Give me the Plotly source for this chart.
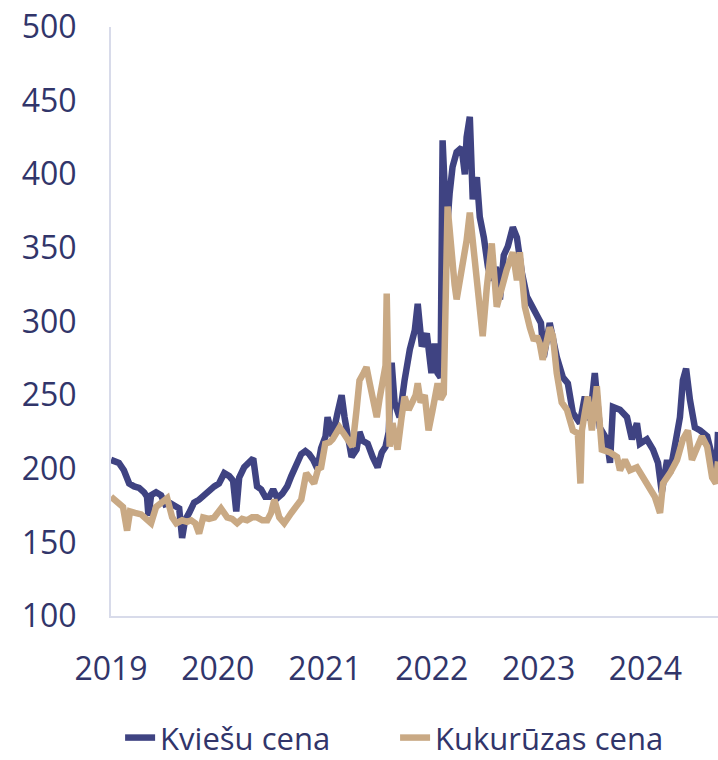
import plotly.graph_objects as go

wheat_dates = [
    "2019-01-01", "2019-01-15", "2019-01-28", "2019-02-14", "2019-03-04", "2019-03-21", "2019-04-07",
    "2019-04-24", "2019-05-04", "2019-05-09", "2019-05-18", "2019-06-04", "2019-06-21", "2019-07-05",
    "2019-07-19", "2019-08-05", "2019-08-22", "2019-09-01", "2019-09-11", "2019-09-25", "2019-10-12",
    "2019-10-29", "2019-11-15", "2019-12-02", "2019-12-20",
    "2020-01-05", "2020-01-23", "2020-02-09", "2020-02-22", "2020-03-04", "2020-03-14", "2020-03-31",
    "2020-04-17", "2020-05-01", "2020-05-14", "2020-05-28", "2020-06-11", "2020-06-25", "2020-07-08",
    "2020-07-22", "2020-08-08", "2020-08-25", "2020-09-08", "2020-09-25", "2020-10-12", "2020-10-26",
    "2020-11-08", "2020-11-22", "2020-12-06", "2020-12-19",
    "2021-01-03", "2021-01-10", "2021-01-27", "2021-02-13", "2021-02-27", "2021-03-09", "2021-03-19",
    "2021-04-02", "2021-04-19", "2021-04-29", "2021-05-10", "2021-05-27", "2021-06-13", "2021-06-30",
    "2021-07-14", "2021-07-27", "2021-08-07", "2021-08-17", "2021-08-27", "2021-09-13", "2021-09-30",
    "2021-10-18", "2021-11-04", "2021-11-14", "2021-11-28", "2021-12-15", "2021-12-31",
    "2022-01-11", "2022-01-21", "2022-01-31", "2022-02-07", "2022-02-14", "2022-02-21", "2022-03-03",
    "2022-03-13", "2022-03-27", "2022-04-13", "2022-04-24", "2022-04-30", "2022-05-11", "2022-05-21",
    "2022-06-04", "2022-06-14", "2022-06-28", "2022-07-12", "2022-07-25", "2022-08-08", "2022-08-22",
    "2022-09-04", "2022-09-18", "2022-10-05", "2022-10-19", "2022-11-05", "2022-11-22", "2022-12-09",
    "2022-12-23",
    "2023-01-09", "2023-01-19", "2023-02-08", "2023-03-04", "2023-03-25", "2023-04-11", "2023-04-28",
    "2023-05-22", "2023-06-08", "2023-06-25", "2023-07-12", "2023-07-29", "2023-08-22", "2023-09-02",
    "2023-09-12", "2023-10-06", "2023-10-30", "2023-11-16", "2023-12-03", "2023-12-13",
    "2024-01-06", "2024-01-27", "2024-02-13", "2024-02-26", "2024-03-15", "2024-03-25", "2024-04-11",
    "2024-04-28", "2024-05-08", "2024-05-19", "2024-06-01", "2024-06-18", "2024-07-06", "2024-07-30",
    "2024-08-19", "2024-08-29", "2024-09-05",
]
wheat_values = [
    206, 205, 204, 199, 190, 188, 187,
    184, 181, 168, 182, 184, 182, 176,
    177, 175, 173, 153, 165, 170, 177,
    179, 182, 186, 188,
    190, 197, 195, 192, 171, 194, 201,
    205, 207, 188, 186, 181, 181, 186,
    180, 183, 188, 195, 203, 210, 212,
    210, 206, 200, 214,
    222, 235, 222, 238, 250, 235, 222,
    208, 213, 225, 219, 217, 208, 201,
    211, 215, 225, 272, 245, 235, 260,
    281, 294, 312, 283, 292, 265,
    285, 265, 262, 423, 395, 360, 387,
    405, 415, 418, 400, 425, 439, 383,
    398, 371, 357, 337, 328, 337, 315,
    345, 351, 364, 357, 333, 317, 310,
    306,
    299, 276, 299, 276, 262, 258, 238,
    231, 249, 233, 265, 228, 220, 204,
    242, 240, 235, 220, 231, 217,
    220, 213, 204, 184, 206, 197, 215,
    235, 260, 268, 247, 228, 226, 222,
    206, 190, 225,
]

corn_dates = [
    "2019-01-01", "2019-01-22", "2019-02-11", "2019-02-25", "2019-03-07", "2019-03-24", "2019-04-14",
    "2019-05-01", "2019-05-18", "2019-06-04", "2019-06-25", "2019-07-12", "2019-07-29", "2019-08-12",
    "2019-09-01", "2019-09-18", "2019-10-02", "2019-10-16", "2019-10-29", "2019-11-12", "2019-12-02",
    "2019-12-20",
    "2020-01-12", "2020-02-02", "2020-02-19", "2020-03-07", "2020-03-24", "2020-04-10", "2020-04-27",
    "2020-05-14", "2020-06-01", "2020-06-18", "2020-07-01", "2020-07-12", "2020-07-29", "2020-08-15",
    "2020-09-08", "2020-09-28", "2020-10-12", "2020-10-29", "2020-11-15", "2020-11-25", "2020-12-09",
    "2020-12-19",
    "2021-01-02", "2021-01-17", "2021-01-27", "2021-02-10", "2021-02-20", "2021-03-06", "2021-03-19",
    "2021-04-05", "2021-04-19", "2021-04-29", "2021-05-13", "2021-05-23", "2021-06-03", "2021-06-13",
    "2021-06-27", "2021-07-07", "2021-07-17", "2021-07-27", "2021-07-31", "2021-08-07", "2021-08-10",
    "2021-08-20", "2021-09-06", "2021-09-20", "2021-09-30", "2021-10-14", "2021-10-24", "2021-11-07",
    "2021-11-14", "2021-11-24", "2021-12-08", "2021-12-21",
    "2022-01-04", "2022-01-14", "2022-01-21", "2022-01-31", "2022-02-11", "2022-02-24", "2022-03-10",
    "2022-03-20", "2022-03-27", "2022-04-13", "2022-04-30", "2022-05-11", "2022-05-28", "2022-06-07",
    "2022-06-17", "2022-06-24", "2022-07-08", "2022-07-25", "2022-08-11", "2022-08-28", "2022-09-14",
    "2022-10-05", "2022-10-19", "2022-10-29", "2022-11-15", "2022-12-02", "2022-12-16", "2022-12-26",
    "2023-01-05", "2023-01-15", "2023-01-26", "2023-02-08", "2023-02-19", "2023-03-04", "2023-03-21",
    "2023-04-08", "2023-04-28", "2023-05-15", "2023-05-24", "2023-05-29", "2023-06-08", "2023-06-18",
    "2023-07-02", "2023-07-19", "2023-08-05", "2023-09-02", "2023-09-26", "2023-10-06", "2023-10-23",
    "2023-11-09", "2023-12-03", "2023-12-24",
    "2024-01-16", "2024-02-02", "2024-02-20", "2024-03-01", "2024-03-25", "2024-04-18", "2024-05-08",
    "2024-05-25", "2024-06-08", "2024-06-25", "2024-07-12", "2024-07-30", "2024-08-16", "2024-08-29",
    "2024-09-05",
]
corn_values = [
    181, 177, 174, 158, 171, 170, 169,
    166, 163, 174, 178, 180, 167, 163,
    165, 164, 165, 163, 156, 167, 166,
    167,
    173, 167, 166, 163, 166, 165, 167,
    167, 165, 165, 170, 179, 167, 163,
    170, 175, 179, 197, 193, 190, 200,
    201,
    217, 218, 220, 226, 228, 224, 220,
    215, 240, 260, 265, 269, 258, 250,
    235, 248, 260, 270, 319, 230, 215,
    231, 213, 235, 249, 240, 245, 250,
    258, 245, 250, 226,
    240, 250, 258, 247, 251, 378, 342,
    325, 315, 333, 355, 374, 344, 317,
    305, 290, 323, 353, 310, 323, 335,
    347, 328, 347, 310, 296, 287, 290,
    285, 274, 285, 296, 290, 265, 245,
    240, 226, 224, 190, 226, 238, 249,
    226, 256, 213, 211, 208, 199, 206,
    199, 201, 194,
    188, 181, 170, 190, 197, 206, 220,
    226, 206, 213, 222, 215, 194, 190,
    205,
]

x_range = ["2019-01-01", "2024-09-05"]
y_ticks = [100, 150, 200, 250, 300, 350, 400, 450, 500]

text_color = "#31356A"
wheat_color = "#3F4382"
corn_color = "#C9A984"
axis_color = "#D8DBEA"

fig = go.Figure()
fig.add_trace(go.Scatter(x=wheat_dates, y=wheat_values, mode="lines", name="Kviešu cena",
                         line=dict(color=wheat_color, width=6.5), legend="legend"))
fig.add_trace(go.Scatter(x=corn_dates, y=corn_values, mode="lines", name="Kukurūzas cena",
                         line=dict(color=corn_color, width=6.5), legend="legend2"))

legend_common = dict(orientation="h", xanchor="left", y=-0.207, yanchor="middle",
                     font=dict(size=31, color=text_color), bgcolor="rgba(0,0,0,0)")

fig.update_layout(
    width=718, height=760,
    margin=dict(l=111, r=0, t=27, b=144, autoexpand=False),
    paper_bgcolor="white", plot_bgcolor="white",
    font=dict(family="Open Sans", size=32, color=text_color),
    showlegend=True,
    legend=dict(x=0.015, **legend_common),
    legend2=dict(x=0.468, **legend_common),
    xaxis=dict(type="date", range=x_range, tickformat="%Y", dtick="M12", tick0="2019-01-01",
               showgrid=False, zeroline=False, showline=True, linecolor=axis_color, linewidth=2,
               ticks="", ticklabelstandoff=24, automargin=False, ticklabeloverflow="allow",
               tickfont=dict(size=32, color=text_color)),
    yaxis=dict(range=[100, 500], tickvals=y_ticks, showgrid=False, zeroline=False,
               showline=True, linecolor=axis_color, linewidth=2, ticks="", automargin=False,
               ticklabelstandoff=26, ticklabeloverflow="allow",
               tickfont=dict(size=32, color=text_color)),
)

fig.write_html("out.html", config={"displayModeBar": False},
               post_script="document.body.style.margin='0px';document.body.style.overflow='hidden';")
